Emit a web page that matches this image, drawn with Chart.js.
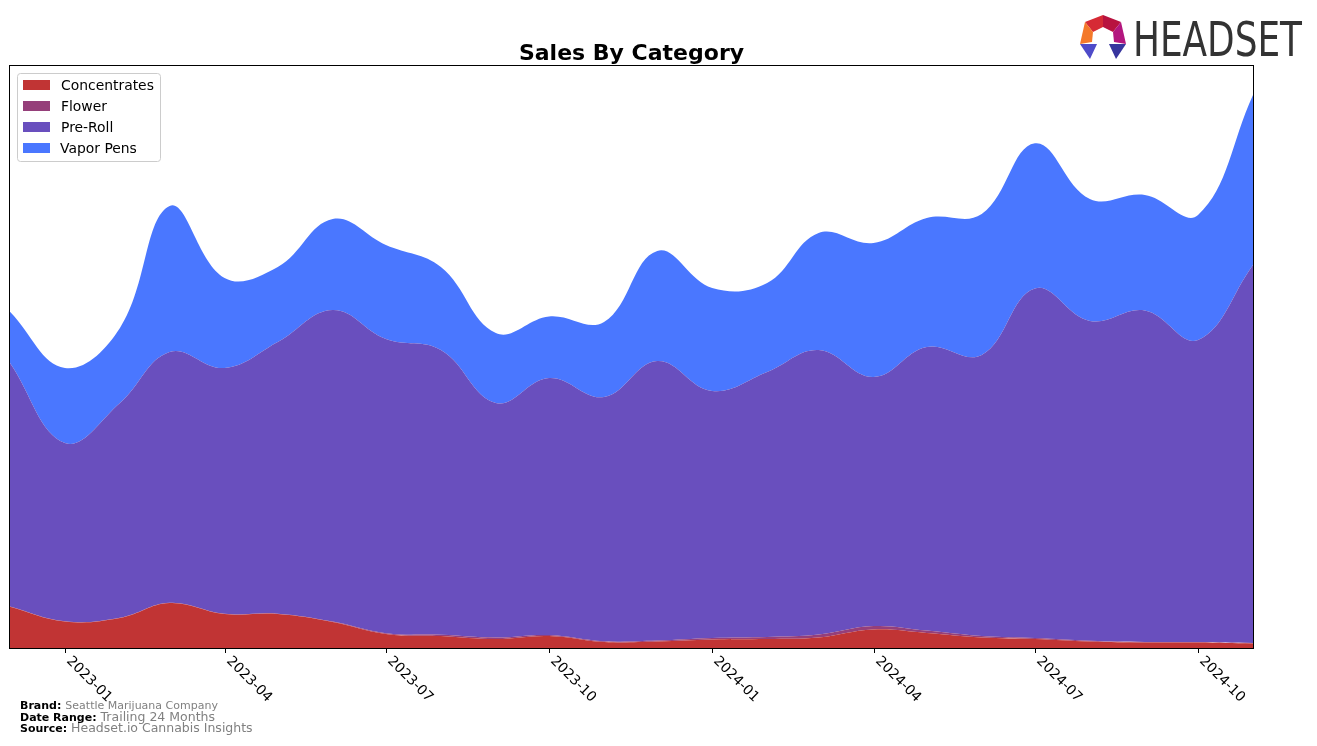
<!DOCTYPE html>
<html>
<head>
<meta charset="utf-8">
<title>Sales By Category</title>
<script src="https://cdn.jsdelivr.net/npm/chart.js@4/dist/chart.umd.min.js"></script>
<style>
  html, body { margin: 0; padding: 0; background: #fff; }
  #wrap { width: 1317px; height: 746px; }
</style>
</head>
<body>
<div id="wrap"><canvas id="sales-chart" width="1317" height="746"></canvas></div>
<script>
// monthly values (arbitrary units)
const months = ['2022-12', '2023-01', '2023-02', '2023-03', '2023-04', '2023-05', '2023-06', '2023-07',
  '2023-08', '2023-09', '2023-10', '2023-11', '2023-12', '2024-01', '2024-02', '2024-03',
  '2024-04', '2024-05', '2024-06', '2024-07', '2024-08', '2024-09', '2024-10', '2024-11'];
const concentrates = [41.3, 26.5, 30, 45, 34, 34, 26, 14, 12, 9, 12, 6, 6.5, 8.5, 9, 10.5, 18.5, 15, 10.5, 9, 6.5, 5.5, 5.5, 4.5];
const flower = [0.3, 0.3, 0.3, 0.3, 0.3, 0.3, 0.5, 0.8, 1.2, 1.5, 1, 0.8, 1, 1.5, 2, 3, 3.5, 2.5, 1.5, 1, 0.8, 0.6, 0.5, 0.5];
const preRoll = [243.4, 178.2, 214.7, 250.7, 245.7, 271.7, 311.5, 294.2, 284.8, 234.5, 257, 244.2, 279.5, 247, 265, 284.5, 249, 283.5, 281, 349.5, 319.7, 331.4, 302, 378];
const vaporPens = [51.3, 75, 75, 146, 90, 75, 91, 94, 83, 70, 61.5, 75, 110, 103, 89, 117, 134, 129, 141, 145.2, 122, 115.5, 125, 170];
const tickLabels = ['2023-01', '2023-04', '2023-07', '2023-10', '2024-01', '2024-04', '2024-07', '2024-10'];

const FONT = '"DejaVu Sans", sans-serif';

// days since the first month, so the x axis follows real month lengths
function dayOf(m) {
  const y = +m.slice(0, 4), mo = +m.slice(5, 7) - 1;
  return (Date.UTC(y, mo, 1) - Date.UTC(2022, 11, 1)) / 86400000;
}

function series(values) {
  return values.map((v, i) => ({ x: dayOf(months[i]), y: v }));
}

const categories = [
  { label: 'Concentrates', values: concentrates, color: '#c13434' },
  { label: 'Flower', values: flower, color: '#953f7a' },
  { label: 'Pre-Roll', values: preRoll, color: '#694fbe' },
  { label: 'Vapor Pens', values: vaporPens, color: '#4a77ff' }
];

const decor = {
  id: 'decor',
  afterDraw(chart) {
    const ctx = chart.ctx;
    const a = chart.chartArea;
    const xs = chart.scales.x;
    ctx.save();

    // frame
    ctx.strokeStyle = '#000';
    ctx.lineWidth = 1;
    ctx.strokeRect(a.left - 0.5, a.top - 0.5, a.right - a.left + 1, a.bottom - a.top + 1);

    // x ticks and rotated labels
    ctx.fillStyle = '#000';
    ctx.font = '13.9px ' + FONT;
    ctx.textAlign = 'left';
    ctx.textBaseline = 'top';
    tickLabels.forEach(t => {
      const px = Math.round(xs.getPixelForValue(dayOf(t))) + 0.5;
      ctx.beginPath();
      ctx.moveTo(px, a.bottom);
      ctx.lineTo(px, a.bottom + 5);
      ctx.stroke();
      ctx.save();
      ctx.translate(px + 8, a.bottom + 6);
      ctx.rotate(Math.PI / 4);
      ctx.fillText(t, 0, 0);
      ctx.restore();
    });

    // title
    ctx.font = 'bold 22px ' + FONT;
    ctx.textAlign = 'center';
    ctx.textBaseline = 'alphabetic';
    ctx.fillText('Sales By Category', (a.left + a.right) / 2, 60);

    // legend
    const lx = 17, ly = 73, lw = 143, lh = 88;
    ctx.fillStyle = 'rgba(255,255,255,0.85)';
    ctx.strokeStyle = '#cccccc';
    ctx.beginPath();
    ctx.roundRect(lx + 0.5, ly + 0.5, lw, lh, 3);
    ctx.fill();
    ctx.stroke();
    ctx.font = '13.9px ' + FONT;
    ctx.textAlign = 'left';
    ctx.textBaseline = 'middle';
    chart.data.datasets.forEach((ds, i) => {
      const cy = 85 + i * 21;
      ctx.fillStyle = ds.backgroundColor;
      ctx.fillRect(23, cy - 5, 27, 10);
      ctx.fillStyle = '#000';
      ctx.fillText(ds.label, i === 3 ? 60 : 61, cy + 1);
    });

    // footer
    const foot = [
      ['Brand:', 'Seattle Marijuana Company', 709, 11],
      ['Date Range:', 'Trailing 24 Months', 721, 12.5],
      ['Source:', 'Headset.io Cannabis Insights', 732, 12.5]
    ];
    ctx.textBaseline = 'alphabetic';
    foot.forEach(([k, v, y, size]) => {
      ctx.font = 'bold 11px ' + FONT;
      ctx.fillStyle = '#000';
      ctx.fillText(k, 20, y);
      const w = ctx.measureText(k).width;
      ctx.font = size + 'px ' + FONT;
      ctx.fillStyle = '#808080';
      ctx.fillText(v, 20 + w + 4, y);
    });

    // logo
    drawLogo(ctx);
    ctx.restore();
  }
};

function poly(ctx, pts, color) {
  ctx.fillStyle = color;
  ctx.beginPath();
  ctx.moveTo(pts[0][0], pts[0][1]);
  pts.slice(1).forEach(p => ctx.lineTo(p[0], p[1]));
  ctx.closePath();
  ctx.fill();
}

function drawLogo(ctx) {
  poly(ctx, [[1103, 15], [1085, 22], [1093, 32], [1103, 27]], '#d62a35');
  poly(ctx, [[1103, 15], [1121, 22], [1113, 32], [1103, 27]], '#b8123f');
  poly(ctx, [[1085, 22], [1080, 44], [1092, 42], [1093, 32]], '#f4792a');
  poly(ctx, [[1121, 22], [1126, 44], [1114, 42], [1113, 32]], '#b3167e');
  poly(ctx, [[1080, 44], [1097, 44], [1090, 59]], '#4e4bc9');
  poly(ctx, [[1109, 44], [1126, 44], [1116, 59]], '#37359e');

  ctx.fillStyle = '#333333';
  ctx.font = '48px "DejaVu Sans Condensed", ' + FONT;
  ctx.textAlign = 'left';
  ctx.textBaseline = 'alphabetic';
  const w = ctx.measureText('HEADSET').width;
  ctx.save();
  ctx.translate(1133, 56);
  ctx.scale(169 / w, 1);
  ctx.fillText('HEADSET', 0, 0);
  ctx.restore();
}

const lastDay = dayOf(months[months.length - 1]);

new Chart(document.getElementById('sales-chart'), {
  type: 'line',
  data: {
    datasets: categories.map((c, i) => ({
      label: c.label,
      data: series(c.values),
      backgroundColor: c.color,
      borderColor: 'rgba(0,0,0,0)',
      borderWidth: 0,
      fill: i === 0 ? 'origin' : '-1',
      pointRadius: 0,
      tension: 0.4
    }))
  },
  options: {
    responsive: false,
    animation: false,
    devicePixelRatio: 1,
    layout: { padding: { left: 10, right: 64, top: 66, bottom: 98 } },
    scales: {
      x: { type: 'linear', min: 0, max: lastDay, display: false },
      y: { stacked: true, min: 0, max: 582, display: false }
    },
    plugins: {
      legend: { display: false },
      title: { display: false },
      tooltip: { enabled: false }
    }
  },
  plugins: [decor]
});
</script>
</body>
</html>
